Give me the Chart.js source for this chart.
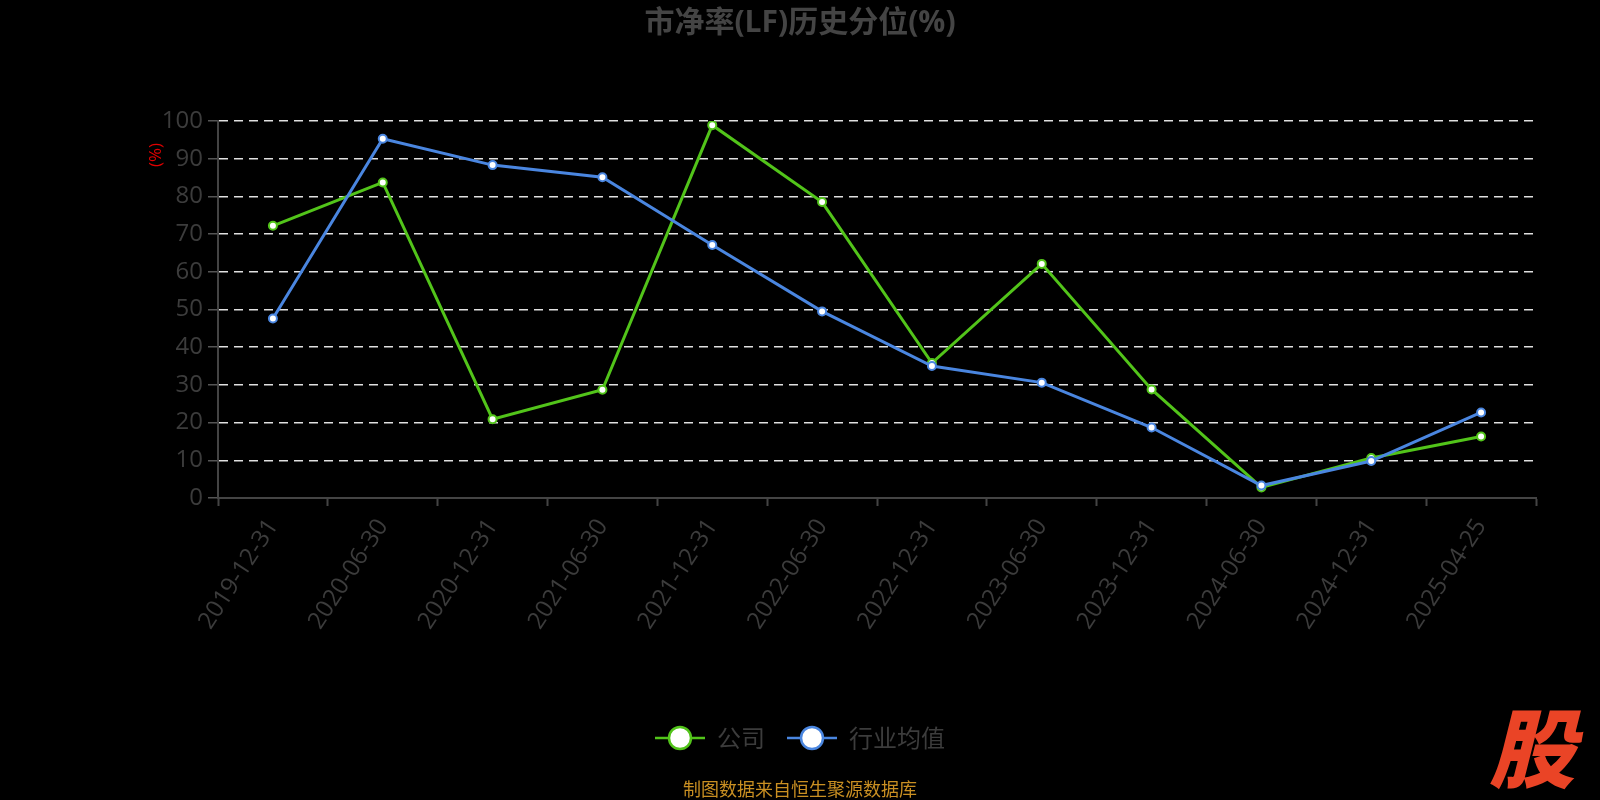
<!DOCTYPE html>
<html>
<head>
<meta charset="utf-8">
<script src="https://cdn.jsdelivr.net/npm/chart.js@4/dist/chart.umd.min.js"></script>
<style>
html,body{margin:0;padding:0;background:#000;}
#wrap{width:1600px;height:800px;position:relative;}
</style>
</head>
<body>
<div id="wrap"><canvas id="c" width="1600" height="800"></canvas></div>
<script>
const categories = ["2019-12-31","2020-06-30","2020-12-31","2021-06-30","2021-12-31","2022-06-30","2022-12-31","2023-06-30","2023-12-31","2024-06-30","2024-12-31","2025-04-25"];
const companyValues = [72.2, 83.7, 20.9, 28.7, 98.9, 78.5, 35.8, 62.1, 28.8, 2.8, 10.6, 16.3];
const industryValues = [47.6, 95.3, 88.3, 85.1, 67.1, 49.5, 35.0, 30.6, 18.7, 3.3, 9.8, 22.7];
const yTicks = [0,10,20,30,40,50,60,70,80,90,100];
const seriesNames = ["公司", "行业均值"];
const titleText = "市净率(LF)历史分位(%)";
const unitText = "(%)";
const footerText = "制图数据来自恒生聚源数据库";
const logoText = "股";

const GREEN = "#52c41a";
const BLUE = "#4a86e0";
const FONT = "'Open Sans', 'Noto Sans CJK SC', sans-serif";
const CJK = "'Noto Sans CJK SC', sans-serif";

function legendMarker(color){
  const cv = document.createElement('canvas');
  cv.width = 50; cv.height = 28;
  const g = cv.getContext('2d');
  g.strokeStyle = color; g.lineWidth = 2.5;
  g.beginPath(); g.moveTo(0,14); g.lineTo(50,14); g.stroke();
  g.beginPath(); g.arc(25,14,11,0,Math.PI*2);
  g.fillStyle = '#fff'; g.fill();
  g.lineWidth = 2.5; g.stroke();
  return cv;
}
const markers = [legendMarker(GREEN), legendMarker(BLUE)];

const extras = {
  id: 'extras',
  afterDraw(chart){
    const ctx = chart.ctx;
    ctx.save();
    ctx.translate(156, 155);
    ctx.rotate(-Math.PI/2);
    ctx.fillStyle = '#e00000';
    ctx.font = "17px " + FONT;
    ctx.textAlign = 'center';
    ctx.textBaseline = 'middle';
    ctx.fillText(unitText, 0, 0);
    ctx.restore();
    ctx.save();
    ctx.fillStyle = '#c98f22';
    ctx.font = "18px " + CJK;
    ctx.textAlign = 'center';
    ctx.textBaseline = 'middle';
    ctx.fillText(footerText, 800, 789);
    ctx.fillStyle = '#ea4426';
    ctx.font = "italic 900 86px " + CJK;
    ctx.textAlign = 'center';
    ctx.fillText(logoText, 1532, 748);
    ctx.restore();
  }
};

new Chart(document.getElementById('c'), {
  type: 'line',
  data: {
    labels: categories,
    datasets: [
      {label: seriesNames[0], data: companyValues, borderColor: GREEN, backgroundColor: '#fff',
       borderWidth: 3, pointRadius: 4, pointBorderWidth: 2, pointBackgroundColor: '#fff', pointBorderColor: GREEN,
       tension: 0, order: 2},
      {label: seriesNames[1], data: industryValues, borderColor: BLUE, backgroundColor: '#fff',
       borderWidth: 3, pointRadius: 4, pointBorderWidth: 2, pointBackgroundColor: '#fff', pointBorderColor: BLUE,
       tension: 0, order: 1}
    ]
  },
  options: {
    responsive: false,
    animation: false,
    layout: {padding: {left: 0, right: 0, top: 0, bottom: 40}},
    plugins: {
      title: {display: true, text: titleText, color: '#444', font: {family: FONT, size: 30, weight: 'bold'},
              padding: {top: 5, bottom: 80}},
      legend: {
        position: 'bottom',
        labels: {
          color: '#3c3c3c', font: {family: CJK, size: 24}, usePointStyle: true, pointStyleWidth: 50,
          boxHeight: 28, padding: 22,
          generateLabels(chart){
            return chart.data.datasets.map((d,i)=>({text: d.label, pointStyle: markers[i], fontColor: '#3c3c3c',
              datasetIndex: i, hidden: false, strokeStyle: d.borderColor, fillStyle: '#fff', lineWidth: 0}));
          }
        }
      },
      tooltip: {enabled: false}
    },
    scales: {
      x: {
        offset: true,
        grid: {offset: true, drawOnChartArea: false, drawTicks: true, tickLength: 8, tickColor: '#444', tickWidth: 2},
        border: {color: '#444', width: 2},
        ticks: {color: '#3c3c3c', font: {family: FONT, size: 24}, minRotation: 57, maxRotation: 57, padding: 8, autoSkip: false},
        afterFit(s){ s.height = 206; }
      },
      y: {
        min: 0, max: 100,
        afterBuildTicks(s){ s.ticks = yTicks.map(v=>({value: v})); },
        grid: {
          color: (c)=> c.tick && c.tick.value === 0 ? 'rgba(0,0,0,0)' : '#e0e0e0',
          lineWidth: 1.5, tickLength: 10,
          tickColor: '#555',
          tickWidth: 1.5, tickBorderDash: []
        },
        border: {color: '#444', width: 2, dash: [9,6]},
        ticks: {color: '#3c3c3c', font: {family: FONT, size: 24}, padding: 5},
        afterFit(s){ s.width = 218; }
      },
      yRight: {
        type: 'linear', position: 'right', display: true,
        grid: {display: false, drawOnChartArea: false, drawTicks: false},
        border: {display: false},
        ticks: {display: false},
        afterFit(s){ s.width = 64; }
      }
    }
  },
  plugins: [extras]
});
</script>
</body>
</html>
